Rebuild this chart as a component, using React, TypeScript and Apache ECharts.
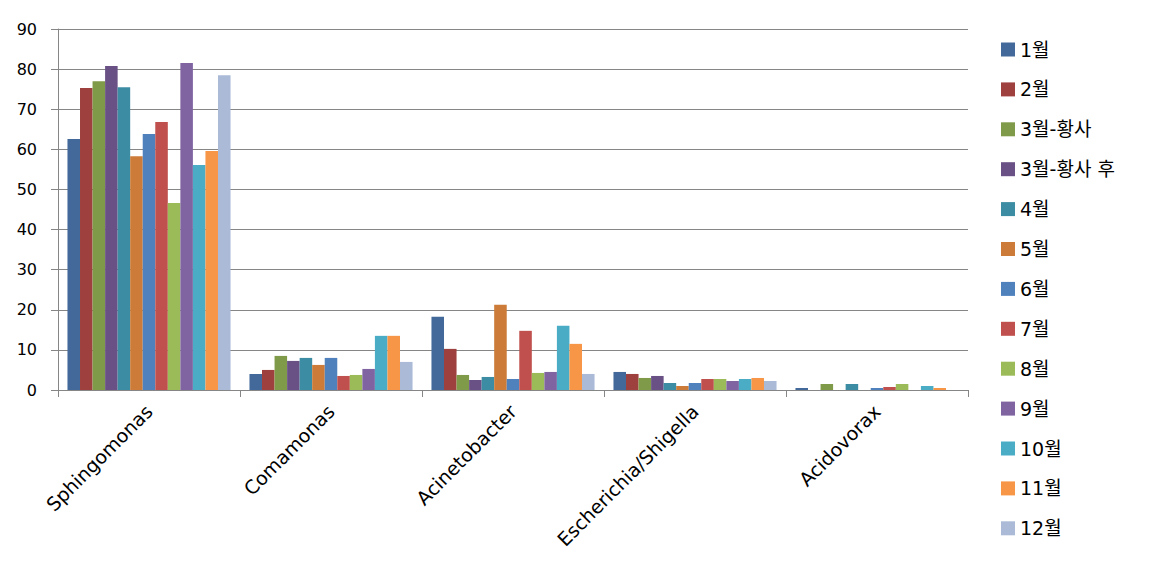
import React, { useEffect, useRef } from "react";
import * as echarts from "echarts";

const categories = ["Sphingomonas", "Comamonas", "Acinetobacter", "Escherichia/Shigella", "Acidovorax"];
const seriesNames = ["1월", "2월", "3월-황사", "3월-황사 후", "4월", "5월", "6월", "7월", "8월", "9월", "10월", "11월", "12월"];
const colors = ["#426999", "#9E413E", "#7F9A48", "#695185", "#3C8DA3", "#CC7B38", "#4F81BD", "#C0504D", "#9BBB59", "#8064A2", "#4BACC6", "#F79646", "#AABAD7"];

const m01 = [62.6, 4.0, 18.25, 4.5, 0.5];
const m02 = [75.3, 5.0, 10.25, 4.0, 0];
const m03a = [77.0, 8.5, 3.75, 3.0, 1.5];
const m03b = [80.8, 7.25, 2.5, 3.5, 0];
const m04 = [75.5, 8.0, 3.25, 1.75, 1.5];
const m05 = [58.3, 6.25, 21.25, 1.0, 0];
const m06 = [63.8, 8.0, 2.75, 1.75, 0.5];
const m07 = [66.8, 3.5, 14.75, 2.75, 0.75];
const m08 = [46.6, 3.75, 4.25, 2.75, 1.5];
const m09 = [81.5, 5.25, 4.5, 2.25, 0];
const m10 = [56.1, 13.5, 16.0, 2.75, 1.0];
const m11 = [59.6, 13.5, 11.5, 3.0, 0.5];
const m12 = [78.5, 7.0, 4.0, 2.25, 0];

const values = [m01, m02, m03a, m03b, m04, m05, m06, m07, m08, m09, m10, m11, m12];

export default function App() {
  const ref = useRef<HTMLDivElement>(null);
  useEffect(() => {
    if (!ref.current) return;
    const chart = echarts.init(ref.current, null, { renderer: "svg" });
    chart.setOption({
      animation: false,
      backgroundColor: "#ffffff",
      grid: { left: 58, right: 184, top: 29, bottom: 186, containLabel: false },
      legend: {
        orient: "vertical",
        left: 1001,
        top: 40,
        height: 540,
        padding: 0,
        itemWidth: 14,
        itemHeight: 14,
        itemGap: 20.9,
        icon: "rect",
        textStyle: { fontSize: 19, color: "#000", fontFamily: "DejaVu Sans, 'Noto Sans CJK KR'" },
        data: seriesNames,
      },
      xAxis: {
        type: "category",
        data: categories,
        axisLine: { lineStyle: { color: "#868686", width: 1 } },
        axisTick: { show: true, length: 7, alignWithLabel: false, lineStyle: { color: "#868686" } },
        axisLabel: {
          rotate: 45,
          margin: 18,
          interval: 0,
          fontSize: 19,
          color: "#000",
          fontFamily: "DejaVu Sans",
        },
      },
      yAxis: {
        type: "value",
        min: 0,
        max: 90,
        interval: 10,
        axisLine: { show: true, lineStyle: { color: "#868686", width: 1 } },
        axisTick: { show: true, length: 7, lineStyle: { color: "#868686" } },
        axisLabel: { fontSize: 16, color: "#000", margin: 21, fontFamily: "DejaVu Sans" },
        splitLine: { show: true, lineStyle: { color: "#868686", width: 1 } },
      },
      series: seriesNames.map((name, i) => ({
        name,
        type: "bar",
        data: values[i],
        barGap: "0%",
        barCategoryGap: "10.4%",
        itemStyle: { color: colors[i] },
      })),
    });
    return () => chart.dispose();
  }, []);
  return <div ref={ref} style={{ width: 1152, height: 576, position: "absolute", left: 0, top: 0 }} />;
}
